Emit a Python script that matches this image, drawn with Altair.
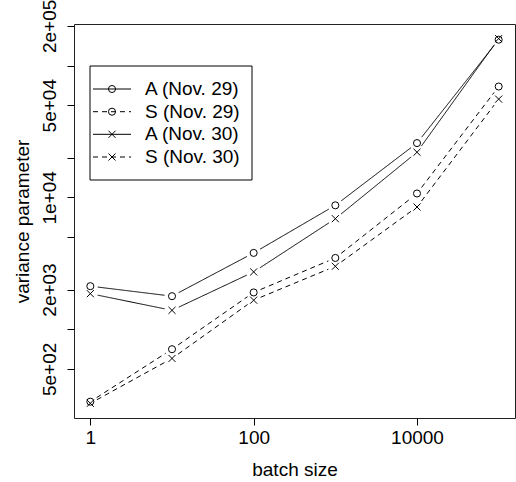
import math
import altair as alt
import pandas as pd

# ---- data ----
batch = [1, 10, 100, 1000, 10000, 100000]
a_nov29 = [2120, 1780, 3790, 8700, 25800, 157000]
s_nov29 = [282, 705, 1900, 3470, 10700, 69300]
a_nov30 = [1860, 1390, 2720, 6890, 22000, 160000]
s_nov30 = [274, 600, 1660, 3000, 8450, 55600]
series_names = ["A (Nov. 29)", "S (Nov. 29)", "A (Nov. 30)", "S (Nov. 30)"]
series_vals = [a_nov29, s_nov29, a_nov30, s_nov30]
x_ticks = [1, 100, 10000]
y_ticks = [500, 1000, 2000, 5000, 10000, 20000, 50000, 100000, 200000]
y_tick_labels = {500: "5e+02", 2000: "2e+03", 10000: "1e+04", 50000: "5e+04", 200000: "2e+05"}

rows = []
for name, vals in zip(series_names, series_vals):
    for b, v in zip(batch, vals):
        rows.append({"series": name, "batch": b, "value": v})
df = pd.DataFrame(rows)

# ---- layout / style ----
FONT = "Liberation Sans"
FS = 19
W, H = 441, 394
XMIN, XMAX = 10 ** -0.2, 10 ** 5.2
YMIN, YMAX = 212.0, 206500.0
XPX = W / math.log10(XMAX / XMIN)
YPX = H / math.log10(YMAX / YMIN)
GAP = 7.5
XPATH = "M-1,-1L1,1M-1,1L1,-1"
shapes = ["circle", "circle", XPATH, XPATH]
dashes = [[1, 0], [5, 4], [1, 0], [5, 4]]

xscale = alt.Scale(type="log", domain=[XMIN, XMAX], nice=False)
yscale = alt.Scale(type="log", domain=[YMIN, YMAX], nice=False)

label_expr = " : ".join(
    f"datum.value == {k} ? '{v}'" for k, v in y_tick_labels.items()
) + " : ''"

xaxis = alt.Axis(
    values=x_ticks, format="d", title="batch size", grid=False, domain=False,
    tickSize=7, tickColor="black", labelFontSize=FS, labelFont=FONT,
    labelColor="black", labelPadding=3, labelFlush=False, labelOverlap=False,
    titleFont=FONT, titleFontSize=FS, titleFontWeight="normal", titleColor="black",
    titleY=57, titleBaseline="alphabetic",
)
yaxis = alt.Axis(
    values=y_ticks, labelExpr=label_expr, title="variance parameter", grid=False,
    domain=False, tickSize=7, tickColor="black", labelFontSize=FS, labelFont=FONT,
    labelColor="black", labelAngle=270, labelAlign="center", labelBaseline="alphabetic",
    labelPadding=12, labelFlush=False, labelOverlap=False,
    titleFont=FONT, titleFontSize=FS, titleFontWeight="normal", titleColor="black",
    titleAngle=270, titleX=-46, titleY=H / 2, titleBaseline="alphabetic", titleAlign="center",
)

# line segments with gaps around points (R type="b")
segs = (
    alt.Chart(df)
    .transform_window(nb="lead(batch)", nv="lead(value)", groupby=["series"],
                      sort=[alt.SortField("batch", order="ascending")])
    .transform_filter("datum.nb != null")
    .transform_calculate(
        lx="log(datum.batch)/LN10",
        lnx="log(datum.nb)/LN10",
        ly="log(datum.value)/LN10",
        lny="log(datum.nv)/LN10",
        dx=f"(datum.lnx - datum.lx) * {XPX}",
        dy=f"(datum.lny - datum.ly) * {YPX}",
        t=f"{GAP} / sqrt(datum.dx*datum.dx + datum.dy*datum.dy)",
        x1="pow(10, datum.lx + datum.t*(datum.lnx - datum.lx))",
        x2="pow(10, datum.lnx - datum.t*(datum.lnx - datum.lx))",
        y1="pow(10, datum.ly + datum.t*(datum.lny - datum.ly))",
        y2="pow(10, datum.lny - datum.t*(datum.lny - datum.ly))",
    )
    .mark_rule(color="black", strokeWidth=1)
    .encode(
        x=alt.X("x1:Q", scale=xscale, axis=xaxis),
        x2="x2:Q",
        y=alt.Y("y1:Q", scale=yscale, axis=yaxis),
        y2="y2:Q",
        strokeDash=alt.StrokeDash("series:N", scale=alt.Scale(domain=series_names, range=dashes), legend=None),
    )
)

points = (
    alt.Chart(df)
    .mark_point(filled=False, size=50, strokeWidth=1, color="black", opacity=1)
    .encode(
        x=alt.X("batch:Q", scale=xscale, axis=xaxis),
        y=alt.Y("value:Q", scale=yscale, axis=yaxis),
        shape=alt.Shape("series:N", scale=alt.Scale(domain=series_names, range=shapes), legend=None),
    )
)

# ---- manual legend (R style box); positions are relative to the plot area ----
one = pd.DataFrame({"k": [0]})
legend_layers = [
    alt.Chart(one).mark_rect(fill="white", stroke="black", strokeWidth=1).encode(
        x=alt.value(16), x2=alt.value(178), y=alt.value(42), y2=alt.value(156)
    )
]
entry_y = [65, 87.7, 110.3, 133]
for name, yy, shp, dsh in zip(series_names, entry_y, shapes, dashes):
    legend_layers.append(
        alt.Chart(one).mark_rule(color="black", strokeWidth=1, strokeDash=dsh).encode(
            x=alt.value(19), x2=alt.value(57), y=alt.value(yy)
        )
    )
    legend_layers.append(
        alt.Chart(one).mark_point(shape=shp, filled=False, size=50, strokeWidth=1,
                                  color="black", opacity=1).encode(
            x=alt.value(38), y=alt.value(yy)
        )
    )
    legend_layers.append(
        alt.Chart(one).mark_text(text=name, font=FONT, fontSize=FS, color="black",
                                 align="left", baseline="middle").encode(
            x=alt.value(71), y=alt.value(yy)
        )
    )

chart = (
    alt.layer(segs, points, *legend_layers)
    .properties(
        width=W, height=H, autosize="none",
        padding={"left": 74, "top": 24, "right": 1, "bottom": 64},
        background="white",
    )
    .configure_view(stroke="#222222", strokeWidth=1)
)

chart.save("out.html", embed_options={"renderer": "svg", "actions": False})
